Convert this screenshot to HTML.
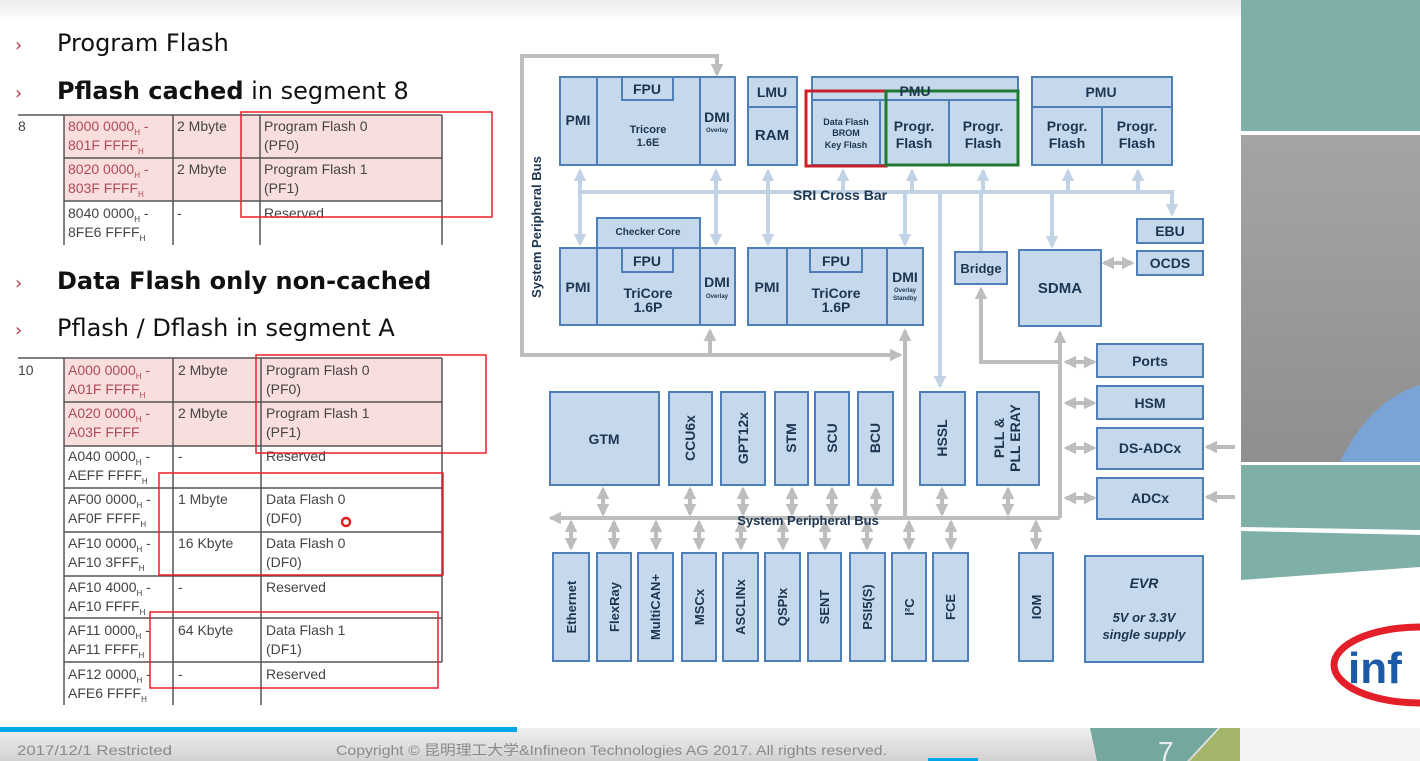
<!DOCTYPE html>
<html><head><meta charset="utf-8"><style>
html,body{margin:0;padding:0;background:#fff;}
svg{display:block;}
.t{font-family:"DejaVu Sans","Liberation Sans",sans-serif;}
.b{font-family:"Liberation Sans",sans-serif;fill:#1c3550;font-size:13px;text-anchor:middle;font-weight:bold;}
.tb{font-family:"Liberation Sans",sans-serif;fill:#444;font-size:14px;}
</style></head><body>
<svg width="1420" height="761" viewBox="0 0 1420 761" xmlns="http://www.w3.org/2000/svg">
<defs>
<linearGradient id="top" x1="0" y1="0" x2="0" y2="1"><stop offset="0" stop-color="#ececec"/><stop offset="1" stop-color="#fff"/></linearGradient>
<linearGradient id="foot" x1="0" y1="0" x2="0" y2="1"><stop offset="0" stop-color="#f0f0f0"/><stop offset="1" stop-color="#d3d0d0"/></linearGradient>
<linearGradient id="photo" x1="0" y1="0" x2="0" y2="1"><stop offset="0" stop-color="#a6a4a3"/><stop offset="1" stop-color="#8f8f8f"/></linearGradient>
<marker id="ag" viewBox="0 0 10 10" refX="8" refY="5" markerWidth="3.2" markerHeight="3.2" orient="auto-start-reverse"><path d="M0,0 L10,5 L0,10 z" fill="#bdbdbd"/></marker>
<marker id="ab" viewBox="0 0 10 10" refX="8" refY="5" markerWidth="3.2" markerHeight="3.2" orient="auto-start-reverse"><path d="M0,0 L10,5 L0,10 z" fill="#c3d3e6"/></marker>
</defs>
<rect x="0" y="0" width="1420" height="761" fill="#fff"/>
<rect x="0" y="0" width="1241" height="22" fill="url(#top)"/>

<g class="t" font-size="24" fill="#111">
<text x="15" y="51" fill="#b03a4a" font-size="18">›</text><text x="57" y="51">Program Flash</text>
<text x="15" y="99" fill="#b03a4a" font-size="18">›</text><text x="57" y="99"><tspan font-weight="bold">Pflash cached</tspan> in segment 8</text>
<text x="15" y="289" fill="#b03a4a" font-size="18">›</text><text x="57" y="289" font-weight="bold">Data Flash only non-cached</text>
<text x="15" y="336" fill="#b03a4a" font-size="18">›</text><text x="57" y="336">Pflash / Dflash in segment A</text>
</g>

<rect x="64" y="115" width="378" height="86" fill="#f9dede"/>
<g stroke="#555" stroke-width="1.5" fill="none">
<line x1="18" y1="115" x2="442" y2="115"/>
<line x1="64" y1="158" x2="442" y2="158"/>
<line x1="64" y1="201" x2="442" y2="201"/>
<line x1="64" y1="115" x2="64" y2="245"/><line x1="173" y1="115" x2="173" y2="245"/>
<line x1="260" y1="115" x2="260" y2="245"/><line x1="442" y1="115" x2="442" y2="245"/>
</g>
<g class="tb">
<text x="18" y="131">8</text>
<text x="68" y="131" fill="#b04a58">8000 0000<tspan font-size="8" dy="4">H</tspan><tspan dy="-4"> -</tspan></text>
<text x="68" y="150" fill="#b04a58">801F FFFF<tspan font-size="8" dy="4">H</tspan></text>
<text x="68" y="174" fill="#b04a58">8020 0000<tspan font-size="8" dy="4">H</tspan><tspan dy="-4"> -</tspan></text>
<text x="68" y="193" fill="#b04a58">803F FFFF<tspan font-size="8" dy="4">H</tspan></text>
<text x="68" y="218">8040 0000<tspan font-size="8" dy="4">H</tspan><tspan dy="-4"> -</tspan></text>
<text x="68" y="237">8FE6 FFFF<tspan font-size="8" dy="4">H</tspan></text>
<text x="177" y="131">2 Mbyte</text><text x="177" y="174">2 Mbyte</text><text x="177" y="218">-</text>
<text x="264" y="131">Program Flash 0</text><text x="264" y="150">(PF0)</text>
<text x="264" y="174">Program Flash 1</text><text x="264" y="193">(PF1)</text>
<text x="264" y="218">Reserved</text>
</g>

<rect x="64" y="358" width="378" height="88" fill="#f9dede"/>
<g stroke="#555" stroke-width="1.5" fill="none">
<line x1="18" y1="358" x2="442" y2="358"/>
<line x1="64" y1="402" x2="442" y2="402"/><line x1="64" y1="446" x2="442" y2="446"/>
<line x1="64" y1="488" x2="442" y2="488"/><line x1="64" y1="532" x2="442" y2="532"/>
<line x1="64" y1="576" x2="442" y2="576"/><line x1="64" y1="618" x2="442" y2="618"/>
<line x1="64" y1="662" x2="442" y2="662"/>
<line x1="64" y1="358" x2="64" y2="705"/><line x1="173" y1="358" x2="173" y2="705"/>
<line x1="261" y1="358" x2="261" y2="705"/><line x1="442" y1="358" x2="442" y2="662"/>
</g>
<g class="tb">
<text x="18" y="375">10</text>
<text x="68" y="375" fill="#b04a58">A000 0000<tspan font-size="8" dy="4">H</tspan><tspan dy="-4"> -</tspan></text>
<text x="68" y="394" fill="#b04a58">A01F FFFF<tspan font-size="8" dy="4">H</tspan></text>
<text x="68" y="418" fill="#b04a58">A020 0000<tspan font-size="8" dy="4">H</tspan><tspan dy="-4"> -</tspan></text>
<text x="68" y="437" fill="#b04a58">A03F FFFF</text>
<text x="68" y="461">A040 0000<tspan font-size="8" dy="4">H</tspan><tspan dy="-4"> -</tspan></text>
<text x="68" y="480">AEFF FFFF<tspan font-size="8" dy="4">H</tspan></text>
<text x="68" y="504">AF00 0000<tspan font-size="8" dy="4">H</tspan><tspan dy="-4"> -</tspan></text>
<text x="68" y="523">AF0F FFFF<tspan font-size="8" dy="4">H</tspan></text>
<text x="68" y="548">AF10 0000<tspan font-size="8" dy="4">H</tspan><tspan dy="-4"> -</tspan></text>
<text x="68" y="567">AF10 3FFF<tspan font-size="8" dy="4">H</tspan></text>
<text x="68" y="592">AF10 4000<tspan font-size="8" dy="4">H</tspan><tspan dy="-4"> -</tspan></text>
<text x="68" y="611">AF10 FFFF<tspan font-size="8" dy="4">H</tspan></text>
<text x="68" y="635">AF11 0000<tspan font-size="8" dy="4">H</tspan><tspan dy="-4"> -</tspan></text>
<text x="68" y="654">AF11 FFFF<tspan font-size="8" dy="4">H</tspan></text>
<text x="68" y="679">AF12 0000<tspan font-size="8" dy="4">H</tspan><tspan dy="-4"> -</tspan></text>
<text x="68" y="698">AFE6 FFFF<tspan font-size="8" dy="4">H</tspan></text>
<text x="178" y="375">2 Mbyte</text><text x="178" y="418">2 Mbyte</text><text x="178" y="461">-</text>
<text x="178" y="504">1 Mbyte</text><text x="178" y="548">16 Kbyte</text><text x="178" y="592">-</text>
<text x="178" y="635">64 Kbyte</text><text x="178" y="679">-</text>
<text x="266" y="375">Program Flash 0</text><text x="266" y="394">(PF0)</text>
<text x="266" y="418">Program Flash 1</text><text x="266" y="437">(PF1)</text>
<text x="266" y="461">Reserved</text>
<text x="266" y="504">Data Flash 0</text><text x="266" y="523">(DF0)</text>
<text x="266" y="548">Data Flash 0</text><text x="266" y="567">(DF0)</text>
<text x="266" y="592">Reserved</text>
<text x="266" y="635">Data Flash 1</text><text x="266" y="654">(DF1)</text>
<text x="266" y="679">Reserved</text>
</g>
<circle cx="346" cy="522" r="4" fill="none" stroke="#e02020" stroke-width="2.5"/>

<g fill="none" stroke="#e8202a" stroke-width="1.5">
<rect x="241" y="112" width="251" height="105"/>
<rect x="256" y="355" width="230" height="98"/>
<rect x="159" y="473" width="284" height="102"/>
<rect x="150" y="612" width="288" height="76"/>
</g>

<g stroke="#c3d3e6" stroke-width="4" fill="none">
<line x1="578" y1="192" x2="1172" y2="192"/>
<line x1="580" y1="192" x2="580" y2="171" marker-end="url(#ab)"/>
<line x1="716" y1="192" x2="716" y2="171" marker-end="url(#ab)"/>
<line x1="768" y1="192" x2="768" y2="171" marker-end="url(#ab)"/>
<line x1="843" y1="192" x2="843" y2="171" marker-end="url(#ab)"/>
<line x1="912" y1="192" x2="912" y2="171" marker-end="url(#ab)"/>
<line x1="983" y1="192" x2="983" y2="171" marker-end="url(#ab)"/>
<line x1="1068" y1="192" x2="1068" y2="171" marker-end="url(#ab)"/>
<line x1="1138" y1="192" x2="1138" y2="171" marker-end="url(#ab)"/>
<line x1="580" y1="192" x2="580" y2="244" marker-end="url(#ab)"/>
<line x1="716" y1="192" x2="716" y2="244" marker-end="url(#ab)"/>
<line x1="768" y1="192" x2="768" y2="244" marker-end="url(#ab)"/>
<line x1="905" y1="192" x2="905" y2="244" marker-end="url(#ab)"/>
<line x1="1052" y1="192" x2="1052" y2="246" marker-end="url(#ab)"/>
<path d="M1170,192 L1172,192 L1172,214" marker-end="url(#ab)"/>
<line x1="981" y1="192" x2="981" y2="252"/>
<line x1="940" y1="192" x2="940" y2="386" marker-end="url(#ab)"/>
</g>
<g stroke="#bdbdbd" stroke-width="4" fill="none">
<path d="M717,56 L522,56 L522,355 L900,355" marker-end="url(#ag)"/>
<path d="M715,56 L717,56 L717,74" marker-end="url(#ag)"/>
<line x1="710" y1="355" x2="710" y2="331" marker-end="url(#ag)"/>
<line x1="905" y1="517" x2="905" y2="331" marker-end="url(#ag)"/>
<line x1="1060" y1="518" x2="1060" y2="333" marker-end="url(#ag)"/>
<path d="M1060,362 L981,362 L981,289" marker-end="url(#ag)"/>
<line x1="1104" y1="263" x2="1132" y2="263" marker-start="url(#ag)" marker-end="url(#ag)"/>
<line x1="1066" y1="362" x2="1094" y2="362" marker-start="url(#ag)" marker-end="url(#ag)"/>
<line x1="1066" y1="403" x2="1094" y2="403" marker-start="url(#ag)" marker-end="url(#ag)"/>
<line x1="1066" y1="448" x2="1094" y2="448" marker-start="url(#ag)" marker-end="url(#ag)"/>
<line x1="1066" y1="498" x2="1094" y2="498" marker-start="url(#ag)" marker-end="url(#ag)"/>
<line x1="1235" y1="447" x2="1207" y2="447" marker-end="url(#ag)"/>
<line x1="1235" y1="497" x2="1207" y2="497" marker-end="url(#ag)"/>
<line x1="1060" y1="518" x2="551" y2="518" marker-end="url(#ag)"/>
<g>
<line x1="603" y1="489" x2="603" y2="514" marker-start="url(#ag)" marker-end="url(#ag)"/>
<line x1="690" y1="489" x2="690" y2="514" marker-start="url(#ag)" marker-end="url(#ag)"/>
<line x1="743" y1="489" x2="743" y2="514" marker-start="url(#ag)" marker-end="url(#ag)"/>
<line x1="792" y1="489" x2="792" y2="514" marker-start="url(#ag)" marker-end="url(#ag)"/>
<line x1="832" y1="489" x2="832" y2="514" marker-start="url(#ag)" marker-end="url(#ag)"/>
<line x1="876" y1="489" x2="876" y2="514" marker-start="url(#ag)" marker-end="url(#ag)"/>
<line x1="942" y1="489" x2="942" y2="514" marker-start="url(#ag)" marker-end="url(#ag)"/>
<line x1="1008" y1="489" x2="1008" y2="514" marker-start="url(#ag)" marker-end="url(#ag)"/>
<line x1="571" y1="522" x2="571" y2="548" marker-start="url(#ag)" marker-end="url(#ag)"/>
<line x1="614" y1="522" x2="614" y2="548" marker-start="url(#ag)" marker-end="url(#ag)"/>
<line x1="656" y1="522" x2="656" y2="548" marker-start="url(#ag)" marker-end="url(#ag)"/>
<line x1="699" y1="522" x2="699" y2="548" marker-start="url(#ag)" marker-end="url(#ag)"/>
<line x1="741" y1="522" x2="741" y2="548" marker-start="url(#ag)" marker-end="url(#ag)"/>
<line x1="783" y1="522" x2="783" y2="548" marker-start="url(#ag)" marker-end="url(#ag)"/>
<line x1="825" y1="522" x2="825" y2="548" marker-start="url(#ag)" marker-end="url(#ag)"/>
<line x1="867" y1="522" x2="867" y2="548" marker-start="url(#ag)" marker-end="url(#ag)"/>
<line x1="909" y1="522" x2="909" y2="548" marker-start="url(#ag)" marker-end="url(#ag)"/>
<line x1="951" y1="522" x2="951" y2="548" marker-start="url(#ag)" marker-end="url(#ag)"/>
<line x1="1036" y1="522" x2="1036" y2="548" marker-start="url(#ag)" marker-end="url(#ag)"/>
</g>
</g>

<g fill="#c6d9ec" stroke="#4d7fb8" stroke-width="2">
<rect x="560" y="77" width="175" height="88"/>
<line x1="597" y1="77" x2="597" y2="165"/><line x1="700" y1="77" x2="700" y2="165"/>
<rect x="622" y="77" width="51" height="23"/>
<rect x="748" y="77" width="49" height="88"/><line x1="748" y1="107" x2="797" y2="107"/>
<rect x="812" y="77" width="206" height="88"/><line x1="812" y1="100" x2="1018" y2="100"/>
<line x1="880" y1="100" x2="880" y2="165"/><line x1="949" y1="100" x2="949" y2="165"/>
<rect x="1032" y="77" width="140" height="88"/><line x1="1032" y1="107" x2="1172" y2="107"/>
<line x1="1102" y1="107" x2="1102" y2="165"/>
<rect x="597" y="218" width="103" height="30"/>
<rect x="560" y="248" width="175" height="77"/>
<line x1="597" y1="248" x2="597" y2="325"/><line x1="700" y1="248" x2="700" y2="325"/>
<rect x="622" y="248" width="51" height="24"/>
<rect x="748" y="248" width="175" height="77"/>
<line x1="787" y1="248" x2="787" y2="325"/><line x1="887" y1="248" x2="887" y2="325"/>
<rect x="810" y="248" width="52" height="24"/>
<rect x="955" y="252" width="52" height="32"/>
<rect x="1019" y="250" width="82" height="76"/>
<rect x="1137" y="219" width="66" height="24"/>
<rect x="1137" y="251" width="66" height="24"/>
<rect x="1097" y="344" width="106" height="33"/>
<rect x="1097" y="386" width="106" height="33"/>
<rect x="1097" y="428" width="106" height="41"/>
<rect x="1097" y="478" width="106" height="41"/>
<rect x="550" y="392" width="109" height="93"/>
<rect x="669" y="392" width="43" height="93"/>
<rect x="721" y="392" width="44" height="93"/>
<rect x="775" y="392" width="33" height="93"/>
<rect x="815" y="392" width="34" height="93"/>
<rect x="858" y="392" width="35" height="93"/>
<rect x="920" y="392" width="45" height="93"/>
<rect x="977" y="392" width="62" height="93"/>
<rect x="553" y="553" width="36" height="108"/>
<rect x="597" y="553" width="34" height="108"/>
<rect x="638" y="553" width="35" height="108"/>
<rect x="682" y="553" width="34" height="108"/>
<rect x="723" y="553" width="35" height="108"/>
<rect x="765" y="553" width="35" height="108"/>
<rect x="808" y="553" width="33" height="108"/>
<rect x="850" y="553" width="35" height="108"/>
<rect x="892" y="553" width="34" height="108"/>
<rect x="933" y="553" width="35" height="108"/>
<rect x="1019" y="553" width="34" height="108"/>
<rect x="1085" y="556" width="118" height="106"/>
</g>
<rect x="806" y="91" width="80" height="75" fill="none" stroke="#c8202a" stroke-width="3"/>
<rect x="886" y="91" width="132" height="74" fill="none" stroke="#1d7a2e" stroke-width="3"/>

<g class="b">
<text x="578" y="125" font-size="14">PMI</text>
<text x="647" y="94" font-size="14">FPU</text>
<text x="648" y="133" font-size="11">Tricore</text><text x="648" y="146" font-size="11">1.6E</text>
<text x="717" y="122" font-size="14">DMI</text><text x="717" y="132" font-size="6">Overlay</text>
<text x="772" y="97" font-size="14">LMU</text><text x="772" y="140" font-size="15">RAM</text>
<text x="915" y="96" font-size="14">PMU</text>
<text x="846" y="125" font-size="9">Data Flash</text><text x="846" y="136" font-size="9">BROM</text><text x="846" y="148" font-size="9">Key Flash</text>
<text x="914" y="131" font-size="14">Progr.</text><text x="914" y="148" font-size="14">Flash</text>
<text x="983" y="131" font-size="14">Progr.</text><text x="983" y="148" font-size="14">Flash</text>
<text x="1101" y="97" font-size="14">PMU</text>
<text x="1067" y="131" font-size="14">Progr.</text><text x="1067" y="148" font-size="14">Flash</text>
<text x="1137" y="131" font-size="14">Progr.</text><text x="1137" y="148" font-size="14">Flash</text>
<text x="840" y="200" font-size="14">SRI Cross Bar</text>
<text x="648" y="235" font-size="10">Checker Core</text>
<text x="578" y="292" font-size="14">PMI</text>
<text x="647" y="266" font-size="14">FPU</text>
<text x="648" y="298" font-size="14">TriCore</text><text x="648" y="312" font-size="14">1.6P</text>
<text x="717" y="287" font-size="14">DMI</text><text x="717" y="298" font-size="6">Overlay</text>
<text x="767" y="292" font-size="14">PMI</text>
<text x="836" y="266" font-size="14">FPU</text>
<text x="836" y="298" font-size="14">TriCore</text><text x="836" y="312" font-size="14">1.6P</text>
<text x="905" y="282" font-size="14">DMI</text><text x="905" y="292" font-size="6">Overlay</text><text x="905" y="300" font-size="6">Standby</text>
<text x="981" y="273" font-size="13">Bridge</text>
<text x="1060" y="293" font-size="15">SDMA</text>
<text x="1170" y="236" font-size="14">EBU</text>
<text x="1170" y="268" font-size="14">OCDS</text>
<text x="1150" y="366" font-size="14">Ports</text>
<text x="1150" y="408" font-size="14">HSM</text>
<text x="1150" y="453" font-size="14">DS-ADCx</text>
<text x="1150" y="503" font-size="14">ADCx</text>
<text x="604" y="444" font-size="14">GTM</text>
<text x="808" y="525" font-size="13">System Peripheral Bus</text>
<text transform="translate(541,227) rotate(-90)" font-size="13">System Peripheral Bus</text>
<text transform="translate(695,438) rotate(-90)" font-size="14">CCU6x</text>
<text transform="translate(748,438) rotate(-90)" font-size="14">GPT12x</text>
<text transform="translate(796,438) rotate(-90)" font-size="14">STM</text>
<text transform="translate(837,438) rotate(-90)" font-size="14">SCU</text>
<text transform="translate(880,438) rotate(-90)" font-size="14">BCU</text>
<text transform="translate(947,438) rotate(-90)" font-size="14">HSSL</text>
<text transform="translate(1004,438) rotate(-90)" font-size="14">PLL &amp;</text>
<text transform="translate(1020,438) rotate(-90)" font-size="14">PLL ERAY</text>
<text transform="translate(576,607) rotate(-90)" font-size="13">Ethernet</text>
<text transform="translate(619,607) rotate(-90)" font-size="13">FlexRay</text>
<text transform="translate(660,607) rotate(-90)" font-size="13">MultiCAN+</text>
<text transform="translate(704,607) rotate(-90)" font-size="13">MSCx</text>
<text transform="translate(745,607) rotate(-90)" font-size="13">ASCLINx</text>
<text transform="translate(787,607) rotate(-90)" font-size="13">QSPIx</text>
<text transform="translate(829,607) rotate(-90)" font-size="13">SENT</text>
<text transform="translate(872,607) rotate(-90)" font-size="13">PSI5(S)</text>
<text transform="translate(914,607) rotate(-90)" font-size="13">I²C</text>
<text transform="translate(955,607) rotate(-90)" font-size="13">FCE</text>
<text transform="translate(1041,607) rotate(-90)" font-size="13">IOM</text>
<text x="1144" y="588" font-size="14" font-style="italic">EVR</text>
<text x="1144" y="622" font-size="13" font-style="italic">5V or 3.3V</text>
<text x="1144" y="639" font-size="13" font-style="italic">single supply</text>
</g>

<rect x="1241" y="0" width="179" height="131" fill="#7fb0a8"/>
<rect x="1241" y="135" width="179" height="327" fill="url(#photo)"/>
<path d="M1340,462 Q1370,400 1420,385 L1420,462 Z" fill="#7aa3d6"/>
<polygon points="1241,465 1420,465 1420,530 1241,527" fill="#7fb0a8"/>
<polygon points="1241,531 1420,535 1420,567 1241,580" fill="#7fb0a8"/>
<ellipse cx="1420" cy="665" rx="86" ry="38" fill="none" stroke="#e3202a" stroke-width="7"/>
<text x="1348" y="683" font-family="Liberation Sans,sans-serif" font-weight="bold" font-size="44" fill="#1a5aa6">inf</text>

<rect x="0" y="728" width="1420" height="33" fill="url(#foot)"/>
<rect x="0" y="727" width="517" height="5" fill="#00a6e6"/>
<rect x="1240" y="728" width="180" height="33" fill="#f3f3f3"/>
<polygon points="1090,728 1218,728 1187,761 1097,761" fill="#74a89e"/>
<polygon points="1220,728 1240,728 1240,761 1190,761" fill="#a3b66a"/>
<text x="1158" y="761" font-family="Liberation Sans,sans-serif" font-size="28" fill="#e8eeee">7</text>
<rect x="928" y="758" width="50" height="3" fill="#00a6e6"/>
<g font-family="Liberation Sans,'Noto Sans CJK SC',sans-serif" font-size="14" fill="#8a8a8a">
<text x="17" y="755" textLength="155" lengthAdjust="spacingAndGlyphs">2017/12/1  Restricted</text>
<text x="336" y="755" textLength="551" lengthAdjust="spacingAndGlyphs">Copyright © 昆明理工大学&amp;Infineon Technologies AG 2017. All rights reserved.</text>
</g>
</svg>
</body></html>
